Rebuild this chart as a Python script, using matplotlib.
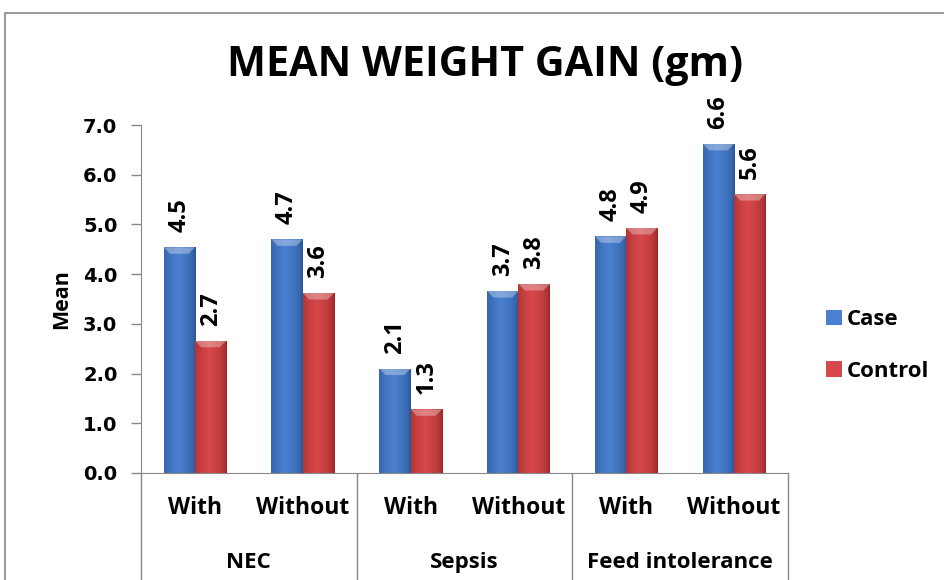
import matplotlib
matplotlib.use("Agg")
import matplotlib.pyplot as plt
import numpy as np
from matplotlib.patches import Rectangle, Polygon

groups = ["NEC", "Sepsis", "Feed intolerance"]
subcats = ["With", "Without", "With", "Without", "With", "Without"]
case_vals = [4.54, 4.70, 2.10, 3.66, 4.76, 6.62]
control_vals = [2.66, 3.62, 1.28, 3.80, 4.93, 5.61]
series_names = ["Case", "Control"]
yticks = [0.0, 1.0, 2.0, 3.0, 4.0, 5.0, 6.0, 7.0]

plt.rcParams['font.family'] = ['Open Sans', 'DejaVu Sans']

fig = plt.figure(figsize=(9.44, 5.8), dpi=100)
W, H = 944, 580
ax = fig.add_axes([141 / W, 1 - 473 / H, (788 - 141) / W, (473 - 125) / H])

x = np.arange(len(subcats))
bw = 0.29
colors = {"Case": ("#2A5596", "#4A80CF"), "Control": ("#9C2828", "#D6484A")}

def grad_bar(rect, dark, light):
    x0, y0 = rect.get_x(), rect.get_y()
    w, h = rect.get_width(), rect.get_height()
    t = np.linspace(0, 1, 64)
    prof = 1 - np.abs(t - 0.45) * 1.9
    prof = np.clip(prof, 0, 1) ** 0.5
    prof = prof[None, :]
    d = np.array(matplotlib.colors.to_rgb(dark))
    l = np.array(matplotlib.colors.to_rgb(light))
    img = d[None, None, :] * (1 - prof[..., None]) + l[None, None, :] * prof[..., None]
    im = ax.imshow(img, extent=[x0, x0 + w, y0, y0 + h], aspect='auto', zorder=2,
                   interpolation='bilinear')
    im.set_clip_path(rect)
    bev = 0.13
    tri = Polygon([[x0, y0 + h], [x0 + w, y0 + h], [x0 + w * 0.8, y0 + h - bev],
                   [x0 + w * 0.2, y0 + h - bev]], closed=True,
                  facecolor=(1, 1, 1, 0.32), edgecolor='none', zorder=3)
    ax.add_patch(tri)

for vals, name, off in [(case_vals, "Case", -bw / 2), (control_vals, "Control", bw / 2)]:
    bars = ax.bar(x + off, vals, bw, color=colors[name][1], edgecolor='none',
                  zorder=1, label=name)
    for b, v in zip(bars, vals):
        grad_bar(b, *colors[name])
        ax.text(b.get_x() + b.get_width() / 2, v + 0.30, f"{v:.1f}", rotation=90,
                ha='center', va='bottom', fontsize=17, fontweight='bold')

ax.set_xlim(-0.5, len(subcats) - 0.5)
ax.set_ylim(0, 7.0)
ax.set_yticks(yticks)
ax.set_yticklabels([f"{v:.1f}" for v in yticks], fontsize=14, fontweight='bold',
                   family='DejaVu Sans')
ax.tick_params(axis='y', length=7, color='#888888', pad=10, width=1)
ax.set_xticks([])
for s in ['top', 'right']:
    ax.spines[s].set_visible(False)
ax.spines['left'].set_color('#888888')
ax.spines['bottom'].set_color('#888888')
ax.set_ylabel("Mean", fontsize=15.5, fontweight='bold', labelpad=8)

for i, s in enumerate(subcats):
    ax.text(i, -0.70, s, ha='center', va='center', fontsize=16.5, fontweight='bold',
            clip_on=False)
for g, name in enumerate(groups):
    ax.text(2 * g + 0.5, -1.80, name, ha='center', va='center', fontsize=16,
            fontweight='bold', clip_on=False)
for b in [-0.5, 1.5, 3.5, 5.5]:
    ax.plot([b, b], [0, -2.3], color='#888888', lw=1, clip_on=False)

leg = ax.legend(loc='center left', bbox_to_anchor=(1.045, 0.366), frameon=False,
                prop={'size': 16, 'weight': 'bold'}, handlelength=0.7,
                handleheight=0.7, labelspacing=1.37, handletextpad=0.25,
                borderaxespad=0)

fig.text(485 / W, 1 - 66 / H, "MEAN WEIGHT GAIN (gm)", ha='center', va='center',
         fontsize=29.7, fontweight='bold')

fig.patches.append(Rectangle((5 / W, -0.1), 1.2, 1 - 13 / H + 0.1, transform=fig.transFigure,
                             fill=False, edgecolor='#888888', lw=1.2))

fig.savefig("out.png", dpi=100)
